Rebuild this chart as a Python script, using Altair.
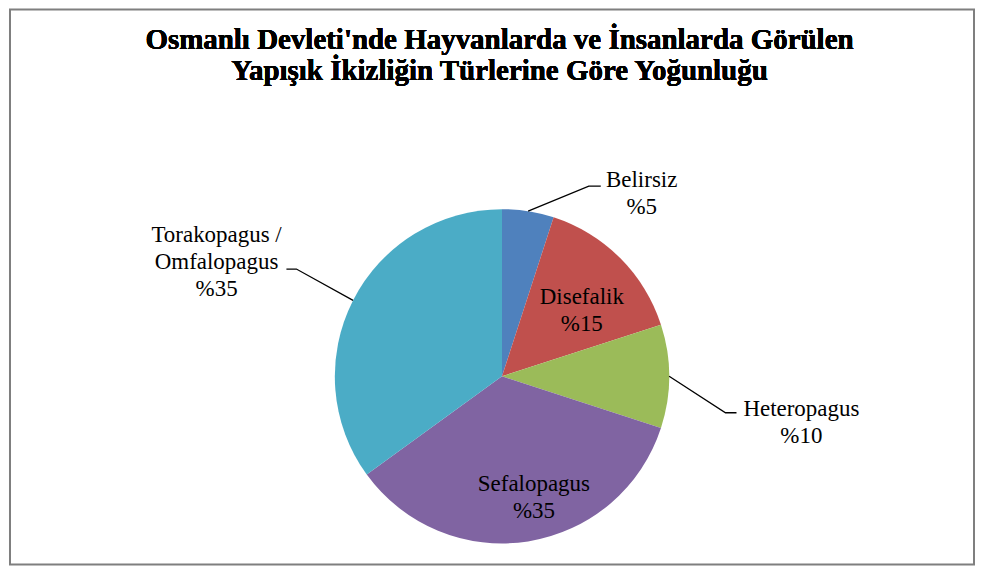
import altair as alt
import numpy as np
import pandas as pd

# ---- data ----
categories = ["Belirsiz", "Disefalik", "Heteropagus", "Sefalopagus", "Torakopagus / Omfalopagus"]
values = [5, 15, 10, 35, 35]
colors = ["#4F81BD", "#C0504D", "#9BBB59", "#8064A2", "#4BACC6"]
title_lines = ["Osmanlı Devleti'nde Hayvanlarda ve İnsanlarda Görülen",
               "Yapışık İkizliğin Türlerine Göre Yoğunluğu"]

# ---- layout ----
W, H = 966, 556
CX, CY = 493.0, 367.5   # pie centre (chart pixels)
R = 167.5
FONT = "Liberation Serif"

# label anchor (centre x, first-line baseline) relative to pie centre
label_pos = {
    "Belirsiz": (140, -189.5),
    "Disefalik": (80, -72.5),
    "Heteropagus": (300, 39.5),
    "Sefalopagus": (32, 114.5),
    "Torakopagus / Omfalopagus": (-286, -134.5),
}
# leader lines: elbow and end point relative to pie centre (outside labels only)
leader = {
    "Belirsiz": [(87, -190.5), (99, -190.5)],
    "Heteropagus": [(224, 36.5), (235, 36.5)],
    "Torakopagus / Omfalopagus": [(-206, -107.5), (-216, -107.5)],
}

df = pd.DataFrame({"category": categories, "value": values, "idx": range(len(categories))})
total = df["value"].sum()
cum = df["value"].cumsum() - df["value"]
df["mid"] = (cum + df["value"] / 2) / total * 2 * np.pi

df["label"] = [f"{c.replace('/ ', '/|')}|%{v}" for c, v in zip(categories, values)]
df["lx"] = [CX + label_pos[c][0] for c in categories]
df["ly"] = [CY + label_pos[c][1] for c in categories]

rows = []
for _, r in df.iterrows():
    if r["category"] in leader:
        sx = CX + R * np.sin(r["mid"])
        sy = CY - R * np.cos(r["mid"])
        pts = [(sx, sy)] + [(CX + dx, CY + dy) for dx, dy in leader[r["category"]]]
        for k, (px, py) in enumerate(pts):
            rows.append({"category": r["category"], "k": k, "px": px, "py": py})
lines_df = pd.DataFrame(rows)

xs = alt.Scale(domain=[0, W], range=[0, W], nice=False, zero=False)
ys = alt.Scale(domain=[0, H], range=[0, H], nice=False, zero=False)

pie = alt.Chart(df).mark_arc(radius=R).encode(
    theta=alt.Theta("value:Q", stack=True),
    order=alt.Order("idx:Q"),
    color=alt.Color("category:N", scale=alt.Scale(domain=categories, range=colors), legend=None),
    x=alt.value(CX),
    y=alt.value(CY),
)

lines = alt.Chart(lines_df).mark_line(color="black", strokeWidth=1.3).encode(
    x=alt.X("px:Q", scale=xs, axis=None),
    y=alt.Y("py:Q", scale=ys, axis=None),
    detail="category:N",
    order="k:Q",
)

labels = alt.Chart(df).mark_text(
    font=FONT, fontSize=23, color="black", lineBreak="|", lineHeight=27,
    align="center", baseline="alphabetic",
).encode(
    x=alt.X("lx:Q", scale=xs, axis=None),
    y=alt.Y("ly:Q", scale=ys, axis=None),
    text="label:N",
)

title = alt.Chart(df).mark_text(
    text=title_lines, font=FONT, fontSize=29, fontWeight="bold", color="black",
    lineHeight=31, align="center", baseline="alphabetic",
).encode(x=alt.value(490.5), y=alt.value(40))

chart = alt.layer(pie, lines, labels, title).properties(
    width=W, height=H, padding={"left": 2, "top": 1, "right": 2, "bottom": 1},
    autosize=alt.AutoSizeParams(type="none"), background="white",
).configure_view(stroke="#7f7f7f", strokeWidth=2)

chart.save("out.html", embed_options={"renderer": "svg", "actions": False})
